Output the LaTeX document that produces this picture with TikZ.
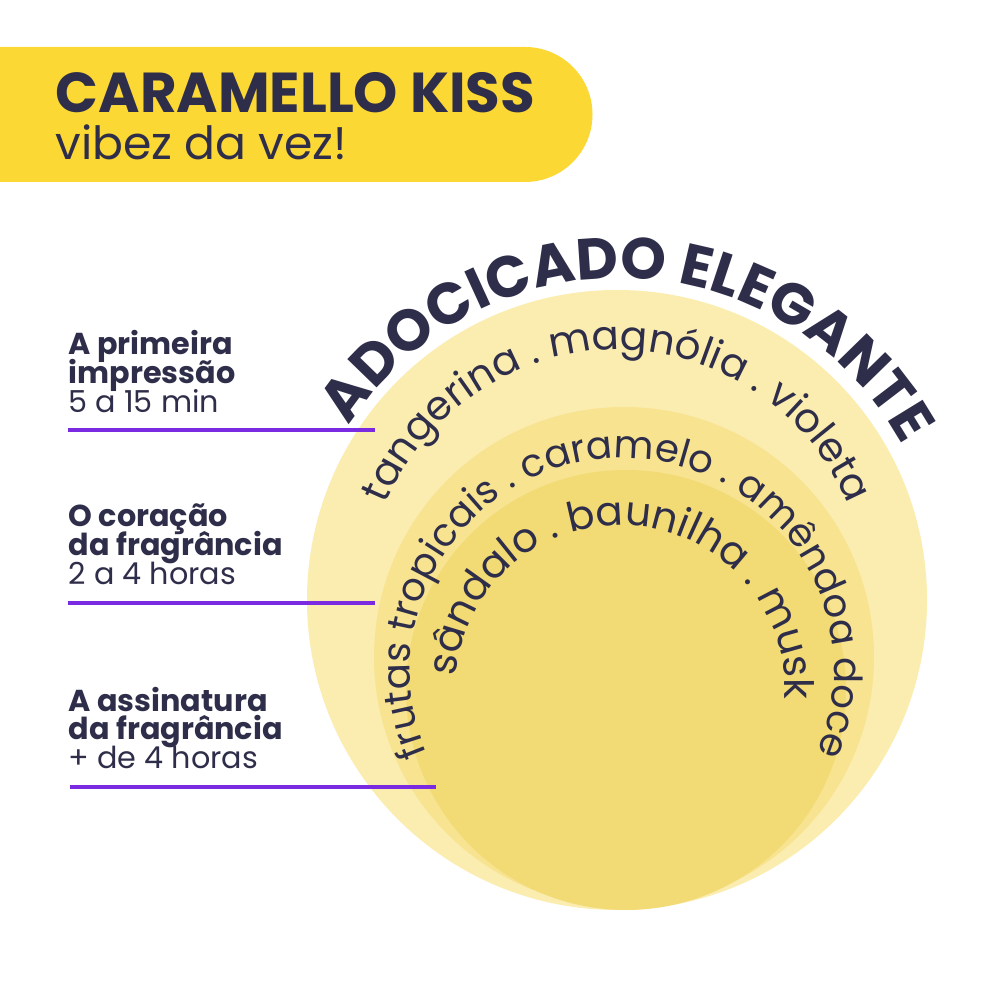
\documentclass[tikz,border=0pt]{standalone}
\usepackage{fontspec}
\setmainfont{Poppins}
\usetikzlibrary{decorations.text}
\definecolor{banner}{HTML}{FCD835}
\definecolor{navy}{HTML}{2F2E4A}
\definecolor{lineviolet}{HTML}{7A2BE2}
\definecolor{topnote}{HTML}{FBEDB0}
\definecolor{heartnote}{HTML}{F7E390}
\definecolor{basenote}{HTML}{F2DA74}
\tikzset{
  label/.style={anchor=base west,text=navy,inner sep=0pt,font=\fontsize{8.6}{9}\selectfont},
  divider/.style={draw=lineviolet,line width=1.4pt},
  curved/.style={decorate,decoration={text along path,text align=center,text color=navy}}
}
\begin{document}
\begin{tikzpicture}[x=0.01cm,y=0.01cm]
  \useasboundingbox[fill=white] (0,0) rectangle (1000,1000);
  % banner
  \fill[banner] (0,953) -- (525,953) arc[start angle=90,end angle=-90,radius=67.5] -- (0,818) -- cycle;
  \node[label,font=\fontsize{16}{18}\bfseries\selectfont] (title) at (55,887) {CARAMELLO KISS};
  \node[label,font=\fontsize{13}{15}\selectfont] (subtitle) at (55,840) {vibez da vez!};
  % circles
  \fill[topnote] (617,400) circle[radius=310];
  \fill[heartnote] (624,343) circle[radius=250];
  \fill[basenote] (626,310) circle[radius=220];
  % curved texts
  \path[curved,decoration={text={|\fontsize{16.5}{18}\bfseries\selectfont|ADOCICADO ELEGANTE}}]
    (620,400) ++(152:322) arc[start angle=152,end angle=24,radius=322];
  \path[curved,decoration={text={|\fontsize{11.5}{13}\selectfont|tangerina . magnólia . violeta}}]
    (617,400) ++(162:250) arc[start angle=162,end angle=18,radius=250];
  \path[curved,decoration={text={|\fontsize{11}{13}\selectfont|frutas tropicais . caramelo . amêndoa doce}}]
    (622,330) ++(210:212) arc[start angle=210,end angle=-30,radius=212];
  \path[curved,decoration={text={|\fontsize{11.5}{13}\selectfont|sândalo . baunilha . musk}}]
    (620,310) ++(176:165) arc[start angle=176,end angle=-4,radius=165];
  % labels
  \node[label,font=\fontsize{8.6}{9}\bfseries\selectfont] (top1) at (68,645) {A primeira};
  \node[label,font=\fontsize{8.6}{9}\bfseries\selectfont] (top2) at (68,616) {impressão};
  \node[label] (top3) at (68,587) {5 a 15 min};
  \coordinate (topa) at (68,570);
  \coordinate (topb) at (375,570);
  \draw[divider] (topa) -- (topb);
  \node[label,font=\fontsize{8.6}{9}\bfseries\selectfont] (heart1) at (68,473) {O coração};
  \node[label,font=\fontsize{8.6}{9}\bfseries\selectfont] (heart2) at (68,444) {da fragrância};
  \node[label] (heart3) at (68,415) {2 a 4 horas};
  \coordinate (hearta) at (68,397);
  \coordinate (heartb) at (375,397);
  \draw[divider] (hearta) -- (heartb);
  \node[label,font=\fontsize{8.6}{9}\bfseries\selectfont] (base1) at (68,288) {A assinatura};
  \node[label,font=\fontsize{8.6}{9}\bfseries\selectfont] (base2) at (68,260) {da fragrância};
  \node[label] (base3) at (68,231) {+ de 4 horas};
  \coordinate (basea) at (70,213);
  \coordinate (baseb) at (436,213);
  \draw[divider] (basea) -- (baseb);
\end{tikzpicture}
\end{document}
